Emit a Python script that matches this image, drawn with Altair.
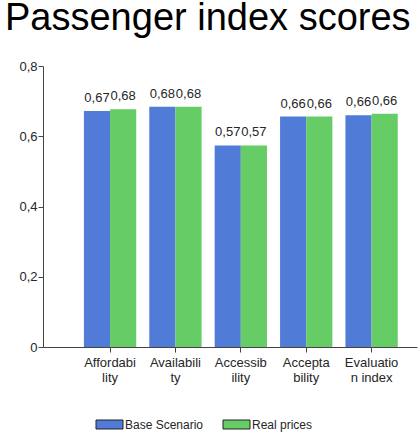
import altair as alt
import pandas as pd

# Index categories and the wrapped lines shown under each tick
categories = ["Affordability", "Availability", "Accessibility", "Acceptability", "Evaluation index"]
tick_lines = [["Affordabi", "lity"], ["Availabili", "ty"], ["Accessib", "ility"],
              ["Accepta", "bility"], ["Evaluatio", "n index"]]

series = ["Base Scenario", "Real prices"]
base_scenario = [0.672, 0.684, 0.574, 0.656, 0.660]
real_prices = [0.677, 0.684, 0.574, 0.656, 0.664]

y_ticks = [0, 0.2, 0.4, 0.6, 0.8]

rows = []
for i, cat in enumerate(categories):
    rows.append({"category": cat, "series": series[0], "value": base_scenario[i]})
    rows.append({"category": cat, "series": series[1], "value": real_prices[i]})
df = pd.DataFrame(rows)

# Multi-line tick labels looked up by category name
label_map = "{" + ", ".join(
    "'" + c + "': [" + ", ".join("'" + s + "'" for s in lines) + "]"
    for c, lines in zip(categories, tick_lines)
) + "}"

FONT = "Liberation Sans"
AXIS_COLOR = "#444444"
TEXT_COLOR = "#262626"

x_enc = alt.X(
    "category:N",
    sort=categories,
    scale=alt.Scale(paddingInner=0.2, paddingOuter=0.46, align=0.68),
    axis=alt.Axis(
        title=None,
        labelAngle=0,
        labelExpr=label_map + "[datum.value]",
        labelFont=FONT,
        labelFontSize=13,
        labelColor=TEXT_COLOR,
        labelLineHeight=15,
        labelPadding=4,
        tickSize=5,
        tickColor=AXIS_COLOR,
        domainColor=AXIS_COLOR,
    ),
)
xoff = alt.XOffset("series:N", sort=series)
y_enc = alt.Y(
    "value:Q",
    scale=alt.Scale(domain=[0, 0.8], nice=False),
    axis=alt.Axis(
        title="%",
        titleFont=FONT,
        titleFontSize=13,
        titleFontWeight="normal",
        titleColor=TEXT_COLOR,
        titleX=-46,
        titleY=140,
        titleAngle=-90,
        values=y_ticks,
        labelExpr="replace(format(datum.value, '.1~f'), '.', ',')",
        labelFont=FONT,
        labelFontSize=13,
        labelColor=TEXT_COLOR,
        labelPadding=1,
        tickSize=5,
        tickColor=AXIS_COLOR,
        domainColor=AXIS_COLOR,
        grid=False,
    ),
)

bars = alt.Chart(df).mark_bar().encode(
    x=x_enc,
    xOffset=xoff,
    y=y_enc,
    color=alt.Color(
        "series:N",
        sort=series,
        scale=alt.Scale(domain=series, range=["#507bd6", "#66cc66"]),
        legend=alt.Legend(
            title=None,
            orient="none",
            legendX=56,
            legendY=348,
            direction="horizontal",
            symbolType="M-1.35,-0.45H1.35V0.45H-1.35Z",
            symbolSize=400,
            symbolStrokeColor="#222222",
            symbolStrokeWidth=1,
            symbolOpacity=1,
            labelFont=FONT,
            labelFontSize=12,
            labelColor=TEXT_COLOR,
            labelOffset=5,
            columnPadding=17,
        ),
    ),
)

labels = alt.Chart(df).mark_text(
    baseline="bottom", dy=-6, font=FONT, fontSize=13, color=TEXT_COLOR
).encode(
    x=alt.X("category:N", sort=categories),
    xOffset=xoff,
    y="value:Q",
    text=alt.Text("label:N"),
).transform_calculate(
    label="replace(format(datum.value, '.2f'), '.', ',')"
)

chart = (
    alt.layer(bars, labels)
    .properties(
        width=374,
        height=281,
        padding={"left": 43, "top": 66, "right": 1, "bottom": 87},
        autosize=alt.AutoSizeParams(type="none"),
        title=alt.TitleParams(
            "Passenger index scores",
            anchor="start",
            frame="group",
            font=FONT,
            fontSize=38,
            fontWeight="normal",
            color="#000000",
            dx=-38,
            offset=22,
        ),
    )
    .configure_view(stroke=None)
    .configure_axisY(domain=True)
)

chart.save("out.html", embed_options={"renderer": "svg", "actions": False})
